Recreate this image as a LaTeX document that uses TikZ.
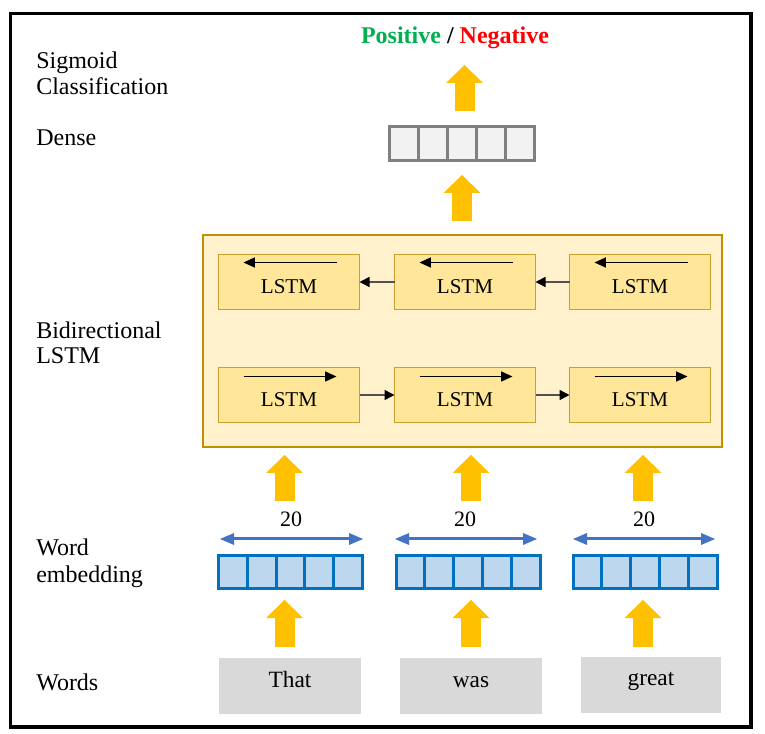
\documentclass[tikz,border=0pt]{standalone}
\usepackage{fontspec}
\setmainfont{Liberation Serif}
\usetikzlibrary{arrows.meta,calc}
\newlength\pxu \setlength\pxu{0.75pt}
\definecolor{yellowA}{HTML}{FFC000}
\definecolor{contfill}{HTML}{FFF2CC}
\definecolor{contdraw}{HTML}{BF9000}
\definecolor{lstmfill}{HTML}{FFE699}
\definecolor{lstmdraw}{HTML}{C9A030}
\definecolor{vecfill}{HTML}{BDD7EE}
\definecolor{vecdraw}{HTML}{0070C0}
\definecolor{dblue}{HTML}{4472C4}
\definecolor{densefill}{HTML}{F2F2F2}
\definecolor{densedraw}{HTML}{808080}
\definecolor{wordfill}{HTML}{D9D9D9}
\definecolor{posgreen}{HTML}{00B050}
\definecolor{negred}{HTML}{FF0000}
\definecolor{linkgray}{HTML}{505050}
\begin{document}
\begin{tikzpicture}[x=0.75pt,y=-0.75pt,
  lbl/.style={anchor=base west, inner sep=0, font=\fontsize{18}{20}\selectfont},
  container/.style={draw=contdraw, fill=contfill, line width=2.5\pxu, minimum width=519\pxu, minimum height=212\pxu, inner sep=0, outer sep=0},
  lstmbox/.style={draw=lstmdraw, fill=lstmfill, line width=1.5\pxu, minimum width=141\pxu, minimum height=55\pxu, inner sep=0, outer sep=0},
  lstmtxt/.style={anchor=base, inner sep=0, font=\fontsize{15.8}{17}\selectfont},
  inarrow/.style={line width=1pt, -{Triangle[length=8.5pt,width=7.5pt]}},
  linkarrow/.style={draw=linkgray, line width=1.1pt, -{Triangle[length=7.5pt,width=7.5pt,color=black]}},
  vecbox/.style={draw=vecdraw, fill=vecfill, line width=3\pxu, minimum width=144\pxu, minimum height=33\pxu, inner sep=0, outer sep=0},
  vecline/.style={draw=vecdraw, line width=3\pxu},
  densebox/.style={draw=densedraw, fill=densefill, line width=3\pxu, minimum width=145\pxu, minimum height=34\pxu, inner sep=0, outer sep=0},
  denseline/.style={draw=densedraw, line width=3\pxu},
  dimarrow/.style={draw=dblue, line width=2.25pt, {Triangle[length=10.5pt,width=9pt,line width=0pt]}-{Triangle[length=10.5pt,width=9pt,line width=0pt]}},
  blockarrow/.style={draw=yellowA, line width=15pt, -{Triangle[length=13.5pt,width=27.75pt,line width=0pt]}},
  wordbox/.style={fill=wordfill, minimum height=56\pxu, inner sep=0, outer sep=0},
  wordtxt/.style={anchor=base, inner sep=0, font=\fontsize{17.5}{19}\selectfont},
  dimtxt/.style={anchor=base, inner sep=0, font=\fontsize{16.5}{18}\selectfont}
]
\useasboundingbox (0,0) rectangle (765,734);
\fill[white] (0,0) rectangle (765,734);
% outer frame
\draw[line width=3.5\pxu] (10.5,13.3) rectangle (751,727);

% left labels
\node[lbl] (sig1) at (36,69) {Sigmoid};
\node[lbl] (sig2) at (36,95) {Classification};
\node[lbl] (den) at (36,146) {Dense};
\node[lbl] (bi1) at (36,339) {Bidirectional};
\node[lbl] (bi2) at (36,364) {LSTM};
\node[lbl] (we1) at (36,556) {Word};
\node[lbl] (we2) at (36,582) {embedding};
\node[lbl] (wd) at (36,691) {Words};

% output
\node[anchor=base, inner sep=0, font=\bfseries\fontsize{18}{20}\selectfont] (out) at (455,44)
  {\textcolor{posgreen}{Positive} / \textcolor{negred}{Negative}};

% dense layer
\node[densebox] (dn) at (462,143.5) {};
\foreach \i in {1,...,4}
  \draw[denseline] ($(dn.south west)!\i/5!(dn.south east)$) -- ($(dn.north west)!\i/5!(dn.north east)$);

% bidirectional container
\node[container] (bl) at (462.5,341) {};
\foreach \n/\x in {1/289,2/465,3/640} {
  \node[lstmbox] (bw\n) at (\x,282) {};
  \node[lstmtxt] (bwt\n) at ($(bw\n.center)+(0,11.5)$) {LSTM};
  \coordinate (bwA\n) at ($(bw\n.north east)+(-23,8)$);
  \coordinate (bwB\n) at ($(bw\n.north west)+(25,8)$);
  \draw[inarrow] (bwA\n) -- (bwB\n);
  \node[lstmbox] (fw\n) at (\x,395) {};
  \node[lstmtxt] (fwt\n) at ($(fw\n.center)+(0,11.5)$) {LSTM};
  \coordinate (fwA\n) at ($(fw\n.north west)+(25,9)$);
  \coordinate (fwB\n) at ($(fw\n.north east)+(-23,9)$);
  \draw[inarrow] (fwA\n) -- (fwB\n);
}
\draw[linkarrow] (bw3.west) -- (bw2.east);
\draw[linkarrow] (bw2.west) -- (bw1.east);
\draw[linkarrow] (fw1.east) -- (fw2.west);
\draw[linkarrow] (fw2.east) -- (fw3.west);

% word embeddings
\foreach \n/\x/\dl/\dr/\tx in {1/290.5/220/363/291, 2/468/395/537/465, 3/645/573/715/644} {
  \node[vecbox] (v\n) at (\x,572) {};
  \foreach \i in {1,...,4}
    \draw[vecline] ($(v\n.south west)!\i/5!(v\n.south east)$) -- ($(v\n.north west)!\i/5!(v\n.north east)$);
  \coordinate (dL\n) at (\dl,539);
  \coordinate (dR\n) at (\dr,539);
  \draw[dimarrow] (dL\n) -- (dR\n);
  \node[dimtxt] (dt\n) at (\tx,527) {20};
}

% words
\node[wordbox, minimum width=142\pxu] (w1) at (290,686) {};
\node[wordbox, minimum width=142\pxu] (w2) at (471,686) {};
\node[wordbox, minimum width=140\pxu] (w3) at (651,685) {};
\node[wordtxt] (wt1) at ($(w1.center)+(0,1)$) {That};
\node[wordtxt] (wt2) at ($(w2.center)+(0,1)$) {was};
\node[wordtxt] (wt3) at ($(w3.center)+(0,0)$) {great};

% yellow block arrows
\foreach \n/\x in {1/284.5,2/471,3/643} {
  \coordinate (ylA\n) at (\x,647);
  \coordinate (ylB\n) at (\x,600);
  \draw[blockarrow] (ylA\n) -- (ylB\n);
  \coordinate (yuA\n) at (\x,501);
  \coordinate (yuB\n) at (\x,455);
  \draw[blockarrow] (yuA\n) -- (yuB\n);
}
\coordinate (ydA) at (462,221);
\coordinate (ydB) at (462,175);
\draw[blockarrow] (ydA) -- (ydB);
\coordinate (yoA) at (464.5,111);
\coordinate (yoB) at (464.5,65);
\draw[blockarrow] (yoA) -- (yoB);
\end{tikzpicture}
\end{document}
